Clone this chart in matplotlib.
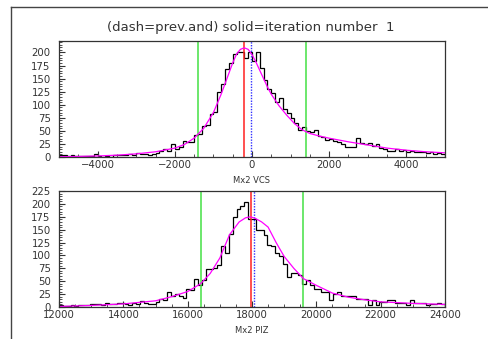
import numpy as np
import matplotlib
matplotlib.use("Agg")
import matplotlib.pyplot as plt
import matplotlib.ticker as mticker
from matplotlib.lines import Line2D

# ── data ─────────────────────────────────────────────────────────────────────

TITLE = "(dash=prev.and) solid=iteration number  1"

# top panel: Mx2 VCS, 100 bins from -5000 to 5000
vcs_edges = np.linspace(-5000, 5000, 101)
vcs_counts = [
    3, 3, 2, 4, 2, 1, 2, 1, 1, 5,
    1, 0, 1, 0, 3, 4, 3, 3, 6, 4,
    7, 5, 6, 4, 6, 8, 12, 16, 12, 24,
    16, 20, 30, 28, 28, 43, 44, 60, 62, 82,
    86, 124, 140, 168, 180, 198, 200, 200, 190, 200,
    184, 200, 170, 148, 130, 122, 105, 112, 92, 84,
    75, 65, 52, 58, 50, 48, 52, 40, 38, 33,
    34, 30, 28, 25, 20, 20, 19, 36, 26, 25,
    26, 22, 24, 18, 16, 12, 12, 16, 12, 14,
    10, 12, 10, 10, 9, 8, 9, 6, 7, 5,
]
vcs_fit_x = [-5000, -4500, -4000, -3500, -3000, -2500, -2000, -1750, -1500, -1250,
             -1000, -800, -600, -500, -400, -300, -200, -100, 0, 100,
             200, 300, 400, 500, 700, 900, 1100, 1300, 1500, 1750,
             2000, 2500, 3000, 3500, 4000, 4500, 5000]
vcs_fit_y = [0.5, 1, 2, 3.5, 6, 10, 17, 24, 36, 55,
             85, 120, 160, 180, 197, 206, 209, 206, 196, 182,
             166, 150, 134, 120, 98, 80, 64, 52, 45, 40,
             36, 29, 23, 17, 13, 10, 8]
vcs_green = [-1400, 1400]
vcs_red = -200
vcs_blue = -20

# bottom panel: Mx2 PIZ, 100 bins from 12000 to 24000
piz_edges = np.linspace(12000, 24000, 101)
piz_counts = [
    4, 2, 1, 3, 2, 4, 4, 3, 6, 5,
    6, 4, 7, 5, 6, 7, 7, 6, 4, 8,
    6, 12, 8, 6, 6, 10, 16, 14, 30, 21,
    26, 22, 17, 34, 33, 54, 43, 52, 74, 73,
    75, 81, 118, 105, 142, 174, 190, 195, 203, 171,
    171, 150, 149, 139, 120, 118, 105, 98, 84, 58,
    65, 66, 62, 45, 52, 42, 35, 35, 29, 29,
    14, 25, 29, 21, 21, 21, 21, 16, 16, 16,
    3, 14, 3, 10, 10, 13, 13, 8, 8, 8,
    3, 14, 8, 8, 8, 3, 6, 6, 8, 6,
]
piz_fit_x = [12000, 12500, 13000, 13500, 14000, 14500, 15000, 15500, 16000, 16400,
             16700, 17000, 17300, 17600, 17800, 17950, 18100, 18300, 18500, 18750,
             19000, 19300, 19600, 20000, 20500, 21000, 21500, 22000, 23000, 24000]
piz_fit_y = [1, 2, 3, 4.5, 6, 9, 12, 20, 30, 45,
             65, 95, 140, 165, 173, 175, 172, 165, 155, 125,
             98, 75, 55, 42, 27, 19, 14, 10, 7, 5]
piz_green = [16400, 19600]
piz_red = 17970
piz_blue = 18060

# ── plotting ─────────────────────────────────────────────────────────────────

FG = "#333333"


def style_axes(ax, xmajor, ylim, ymajor):
    ax.set_ylim(*ylim)
    ax.xaxis.set_major_locator(mticker.MultipleLocator(xmajor))
    ax.xaxis.set_minor_locator(mticker.MultipleLocator(500))
    ax.yaxis.set_major_locator(mticker.MultipleLocator(ymajor))
    ax.yaxis.set_minor_locator(mticker.MultipleLocator(5))
    ax.tick_params(which="both", direction="in", top=False, right=False,
                   colors=FG, labelsize=7.3)
    ax.tick_params(which="major", length=4.5, width=0.8)
    ax.tick_params(which="minor", length=2.2, width=0.6)
    ax.tick_params(axis="x", pad=2)
    ax.tick_params(axis="y", pad=6)
    ax.xaxis.set_major_formatter(mticker.FuncFormatter(lambda v, _: f"{int(v)}".replace("-", "\u2212")))
    for s in ax.spines.values():
        s.set_color(FG)
        s.set_linewidth(0.9)


def draw_panel(ax, edges, counts, fx, fy, green, red, blue, label):
    ax.stairs(counts, edges, color="black", linewidth=0.9)
    for g in green:
        ax.axvline(g, color="#44e044", linewidth=1.1)
    ax.axvline(red, color="#ff2020", linewidth=1.1)
    ax.axvline(blue, color="#3030ff", linewidth=1.0, linestyle=(0, (1, 1)))
    ax.plot(fx, fy, color="#ff00ff", linewidth=0.9)
    ax.set_xlim(edges[0], edges[-1])
    ax.text(0.5, -0.2, label, transform=ax.transAxes, ha="center", va="center",
            fontsize=6, color=FG)


fig = plt.figure(figsize=(4.89, 3.39), dpi=100)

# outer frame (left and top edges visible)
fig.add_artist(Line2D([11.5 / 489, 11.5 / 489], [0, 1 - 7 / 339], color="#444444", linewidth=1.0))
fig.add_artist(Line2D([11.5 / 489, 1], [1 - 7 / 339, 1 - 7 / 339], color="#444444", linewidth=1.0))

fig.text(251 / 489, 1 - 28 / 339, TITLE, ha="center", va="center", fontsize=9.5, color=FG)

ax1 = fig.add_axes([59 / 489, 1 - 157 / 339, 386 / 489, 116 / 339])
draw_panel(ax1, vcs_edges, vcs_counts, vcs_fit_x, vcs_fit_y,
           vcs_green, vcs_red, vcs_blue, "Mx2 VCS")
style_axes(ax1, 2000, (0, 222), 25)

ax2 = fig.add_axes([59 / 489, 1 - 307 / 339, 386 / 489, 116 / 339])
draw_panel(ax2, piz_edges, piz_counts, piz_fit_x, piz_fit_y,
           piz_green, piz_red, piz_blue, "Mx2 PIZ")
style_axes(ax2, 2000, (0, 225), 25)

fig.savefig("out.png", dpi=100)
